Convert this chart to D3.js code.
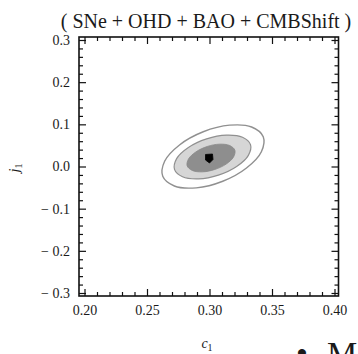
<!DOCTYPE html>
<html>
<head>
<meta charset="utf-8">
<script src="https://cdn.jsdelivr.net/npm/d3@7"></script>
<style>
	body { margin: 0; background: #fff; }
	svg text { font-family: "Liberation Serif", "DejaVu Serif", serif; fill: #1a1a1a; }
	.tick text { font-size: 14px; }
	.tick line { stroke: #111; stroke-width: 1.2; }
</style>
</head>
<body>
<svg id="chart"></svg>
<script>
// contour levels as (c1, j1) points
var outerC1 = [0.3430, 0.3337, 0.3161, 0.2950, 0.2760, 0.2641, 0.2626, 0.2719, 0.2895, 0.3106, 0.3296, 0.3415];
var outerJ1 = [0.0706, 0.0937, 0.0980, 0.0824, 0.0511, 0.0124, -0.0232, -0.0462, -0.0506, -0.0350, -0.0036, 0.0350];

var midC1 = [0.3328, 0.3264, 0.3135, 0.2977, 0.2831, 0.2737, 0.2720, 0.2784, 0.2913, 0.3071, 0.3217, 0.3311];
var midJ1 = [0.0518, 0.0694, 0.0745, 0.0656, 0.0452, 0.0187, -0.0068, -0.0244, -0.0295, -0.0206, -0.0001, 0.0264];

var innerC1 = [0.3203, 0.3162, 0.3082, 0.2982, 0.2891, 0.2832, 0.2821, 0.2862, 0.2942, 0.3042, 0.3133, 0.3192];
var innerJ1 = [0.0386, 0.0497, 0.0530, 0.0475, 0.0346, 0.0179, 0.0018, -0.0094, -0.0127, -0.0071, 0.0057, 0.0224];

// best fit region
var bestC1 = [0.2968, 0.3024, 0.3028, 0.3000, 0.2968];
var bestJ1 = [0.0285, 0.0296, 0.0166, 0.0083, 0.0154];

var xTicks = [0.20, 0.25, 0.30, 0.35, 0.40];
var xTickLabels = ["0.20", "0.25", "0.30", "0.35", "0.40"];
var yTicks = [-0.3, -0.2, -0.1, 0.0, 0.1, 0.2, 0.3];
var yTickLabels = ["\u2212 0.3", "\u2212 0.2", "\u2212 0.1", "0.0", "0.1", "0.2", "0.3"];

var title = "( SNe + OHD + BAO + CMBShift )";

var width = 358,
	height = 354;

var frame = { left: 79, right: 338.5, top: 37, bottom: 296 };

var svg = d3.select("#chart")
	.attr("width", width)
	.attr("height", height);

var x = d3.scaleLinear().domain([0.20, 0.40]).range([84.5, 334.5]);
var y = d3.scaleLinear().domain([-0.3, 0.3]).range([293, 40]);

function zipPts(cs, js){
	return cs.map(function(c, i){ return [c, js[i]]; });
}

var contour = d3.line()
	.x(function(d){ return x(d[0]); })
	.y(function(d){ return y(d[1]); })
	.curve(d3.curveCatmullRomClosed);

var poly = d3.line()
	.x(function(d){ return x(d[0]); })
	.y(function(d){ return y(d[1]); })
	.curve(d3.curveLinearClosed);

// contours
var g = svg.append("g");

g.append("path")
	.attr("d", contour(zipPts(outerC1, outerJ1)))
	.attr("fill", "#fff")
	.attr("stroke", "#909090")
	.attr("stroke-width", 1.4);

g.append("path")
	.attr("d", contour(zipPts(midC1, midJ1)))
	.attr("fill", "#d6d6d6")
	.attr("stroke", "#909090")
	.attr("stroke-width", 1.2);

g.append("path")
	.attr("d", contour(zipPts(innerC1, innerJ1)))
	.attr("fill", "#8e8e8e")
	.attr("stroke", "#888")
	.attr("stroke-width", 0.8);

g.append("path")
	.attr("d", poly(zipPts(bestC1, bestJ1)))
	.attr("fill", "#000")
	.attr("stroke", "#000")
	.attr("stroke-width", 0.8);

// ticks (inward, on all four sides)
var xMinor = d3.range(20, 41).map(function(d){ return d / 100; }).filter(function(d){ return Math.round(d * 100) % 5 !== 0; });
var yMinor = d3.range(-15, 16).map(function(d){ return d / 50; }).filter(function(d){ return Math.round(d * 50) % 5 !== 0; });

function addAxis(axisFn, scale, values, size, tx, ty, labels){
	var ax = axisFn(scale).tickValues(values).tickSize(-size).tickPadding(9);
	if (labels) ax.tickFormat(function(d, i){ return labels[i]; });
	else ax.tickFormat("");
	var sel = svg.append("g")
		.attr("transform", "translate(" + tx + "," + ty + ")")
		.call(ax);
	sel.select(".domain").remove();
	return sel;
}

addAxis(d3.axisBottom, x, xTicks, 7, 0, frame.bottom, xTickLabels);
addAxis(d3.axisBottom, x, xMinor, 4, 0, frame.bottom, null);
addAxis(d3.axisTop, x, xTicks, 7, 0, frame.top, null);
addAxis(d3.axisTop, x, xMinor, 4, 0, frame.top, null);

addAxis(d3.axisLeft, y, yTicks, 7, frame.left, 0, yTickLabels);
addAxis(d3.axisLeft, y, yMinor, 4, frame.left, 0, null);
addAxis(d3.axisRight, y, yTicks, 7, frame.right, 0, null);
addAxis(d3.axisRight, y, yMinor, 4, frame.right, 0, null);

svg.selectAll(".tick text").attr("fill", "#1a1a2e");

// frame
svg.append("rect")
	.attr("x", frame.left)
	.attr("y", frame.top)
	.attr("width", frame.right - frame.left)
	.attr("height", frame.bottom - frame.top)
	.attr("fill", "none")
	.attr("stroke", "#111")
	.attr("stroke-width", 1.6);

// title
svg.append("text")
	.attr("x", 206)
	.attr("y", 28)
	.attr("text-anchor", "middle")
	.style("font-size", "20px")
	.text(title);

// axis labels
svg.append("text")
	.attr("x", 207)
	.attr("y", 348)
	.attr("text-anchor", "middle")
	.style("font-size", "14px")
	.style("font-style", "italic")
	.html("c<tspan dy='3' font-size='10px' font-style='normal'>1</tspan>");

svg.append("text")
	.attr("transform", "translate(19,168) rotate(-90)")
	.attr("text-anchor", "middle")
	.style("font-size", "14px")
	.style("font-style", "italic")
	.html("j<tspan dy='3' font-size='10px' font-style='normal'>1</tspan>");

// page text cut off below the figure
svg.append("text")
	.attr("x", 302)
	.attr("y", 365)
	.attr("text-anchor", "middle")
	.style("font-size", "34px")
	.text("\u2022");

svg.append("text")
	.attr("x", 327)
	.attr("y", 365)
	.style("font-size", "34px")
	.text("M");
</script>
</body>
</html>
